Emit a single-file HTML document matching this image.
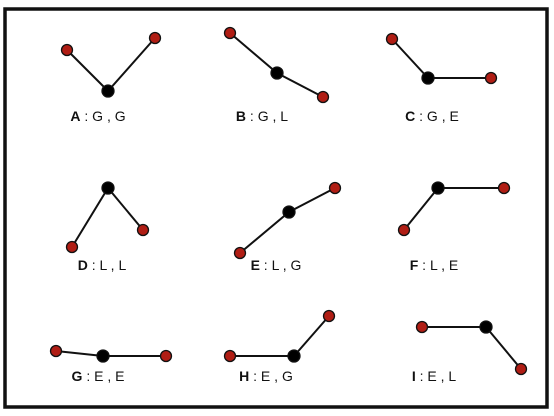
<!DOCTYPE html>
<html><head><meta charset="utf-8"><style>
html,body{margin:0;padding:0;background:#fff;}
svg{display:block;}
text{font-family:"Liberation Sans",sans-serif;font-size:14px;fill:#111;}
</style></head><body>
<svg id="c" width="554" height="416">
<rect x="5" y="9" width="542" height="398" fill="#fff" stroke="#111" stroke-width="3.5"/>
</svg>
<script>
const labels=["A","B","C","D","E","F","G","H","I"];
const codes=["G , G","G , L","G , E","L , L","L , G","L , E","E , E","E , G","E , L"];
const panelPoints=[
[[67,50],[108,91],[155,38]],
[[230,33],[277,73],[323,97]],
[[392,39],[428,78],[491,78]],
[[72,247],[108,188],[143,230]],
[[240,253],[289,212],[335,188]],
[[404,230],[438,188],[504,188]],
[[56,351],[103,356],[166,356]],
[[230,356],[294,356],[329,316]],
[[422,327],[486,327],[521,369]]];
const labelPos=[[98,121],[262,121],[432,121],[102,270],[276,270],[434,270],[98,381],[266,381],[434,381]];
const NS="http://www.w3.org/2000/svg";
const svg=document.getElementById('c');
panelPoints.forEach((pts,i)=>{
  const g=document.createElementNS(NS,'g');
  
  
  const pl=document.createElementNS(NS,'polyline');
  pl.setAttribute('points',pts.map(p=>p.join(',')).join(' '));
  pl.setAttribute('fill','none');pl.setAttribute('stroke','#111');pl.setAttribute('stroke-width','2');
  
  
  g.appendChild(pl);
  pts.forEach((p,j)=>{
    const c=document.createElementNS(NS,'circle');
    c.setAttribute('cx',p[0]);c.setAttribute('cy',p[1]);
    c.setAttribute('r',j===1?6:5.5);
    c.setAttribute('fill',j===1?'#000':'#b01d14');
    c.setAttribute('stroke','#111');c.setAttribute('stroke-width','1.3');
    
    
    g.appendChild(c);
  });
  const t=document.createElementNS(NS,'text');
  t.setAttribute('x',labelPos[i][0]);t.setAttribute('y',labelPos[i][1]);
  t.setAttribute('text-anchor','middle');
  
  
  t.innerHTML='<tspan font-weight="bold">'+labels[i]+'</tspan> : '+codes[i];
  g.appendChild(t);
  svg.appendChild(g);
});
</script>
</body></html>
